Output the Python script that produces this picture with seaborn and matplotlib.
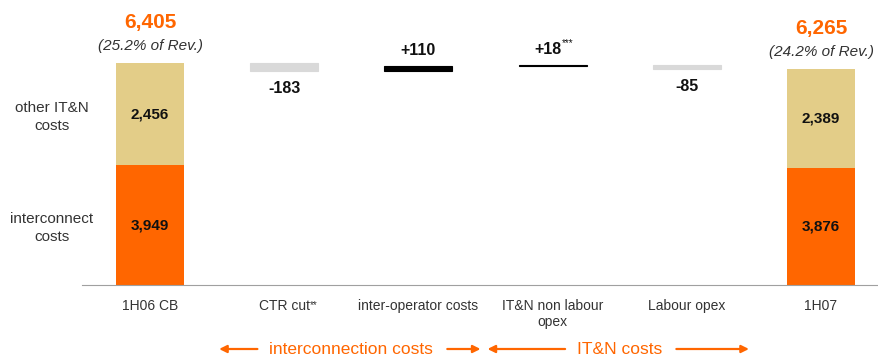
import numpy as np
import pandas as pd
import matplotlib
matplotlib.use("Agg")
import matplotlib.pyplot as plt
from matplotlib.transforms import blended_transform_factory
import seaborn as sns

# ---- data -------------------------------------------------------------
categories = ["1H06 CB", "CTR cut**", "inter-operator costs",
              "IT&N non labour\nopex", "Labour opex", "1H07"]
interconnect = [3949, 3876]          # 1H06 CB, 1H07
other_itn = [2456, 2389]             # 1H06 CB, 1H07
rev_share = ["25.2%", "24.2%"]
deltas = [-183, 110, 18, -85]        # CTR cut, inter-operator, IT&N non labour, Labour
delta_labels = ["-183", "+110", "+18***", "-85"]
segment_names = ["other IT&N\ncosts", "interconnect\ncosts"]
groups = [("interconnection costs", 1, 2), ("IT&N costs", 3, 4)]

ORANGE = "#FF6600"
TAN = "#E3CD88"
GREY = "#D9D9D9"
TEXT = "#333333"

sns.set_style("white")
plt.rcParams["font.family"] = ["Liberation Sans", "DejaVu Sans"]

W, H = 879, 356
fig = plt.figure(figsize=(W / 100, H / 100), dpi=100)
ax = fig.add_axes([82 / W, 71 / H, (W - 82) / W, 285 / H])

# value axis is cut: bars start above zero
Y_MIN, Y_MAX = 1066, 7920

totals = [a + b for a, b in zip(interconnect, other_itn)]
n = len(categories)
end_idx = [0, n - 1]
BAR_W = 0.507


def split_stars(s):
    core = s.rstrip("*")
    return core, s[len(core):]


# full-height total bars (tan), interconnect part overlaid in orange
tot_df = pd.DataFrame({"category": [categories[i] for i in end_idx],
                       "total": totals, "interconnect": interconnect})
sns.barplot(data=tot_df, x="category", y="total", order=categories,
            color=TAN, saturation=1, width=BAR_W, errorbar=None,
            linewidth=0, ax=ax)
sns.barplot(data=tot_df, x="category", y="interconnect", order=categories,
            color=ORANGE, saturation=1, width=BAR_W, errorbar=None,
            linewidth=0, ax=ax)

# floating step bars
level = totals[0]
lows, highs = [], []
for d in deltas:
    lows.append(min(level, level + d))
    highs.append(max(level, level + d))
    level += d
step_df = pd.DataFrame({"category": categories[1:n - 1],
                        "size": np.abs(deltas)})
sns.barplot(data=step_df, x="category", y="size", order=categories,
            color="black", saturation=1, width=BAR_W, errorbar=None,
            linewidth=0.8, ax=ax)
for patch in ax.containers[-1]:
    idx = int(round(patch.get_x() + patch.get_width() / 2)) - 1
    col = GREY if deltas[idx] < 0 else "black"
    patch.set_y(lows[idx])
    patch.set_facecolor(col)
    patch.set_edgecolor(col)

# axes styling
ax.set_xlim(-0.507, 5.432)
ax.set_ylim(Y_MIN, Y_MAX)
ax.set_xlabel("")
ax.set_ylabel("")
ax.set_yticks([])
for s in ["left", "top", "right"]:
    ax.spines[s].set_visible(False)
ax.spines["bottom"].set_color("#A0A0A0")
ax.spines["bottom"].set_linewidth(0.8)
ax.set_xticks(range(n))
tick_text = [split_stars(c)[0] for c in categories]
ax.set_xticklabels(tick_text, fontsize=10, color=TEXT)
ax.tick_params(axis="x", which="major", length=0, pad=10)
ax.set_xticks(np.arange(n) - 0.5, minor=True)
ax.tick_params(axis="x", which="minor", length=5, width=0.8,
               color="#A0A0A0", direction="out")

fig.canvas.draw()
renderer = fig.canvas.get_renderer()
inv_fig = fig.transFigure.inverted()

# footnote stars on tick labels
for lab, c in zip(ax.get_xticklabels(), categories):
    stars = split_stars(c)[1]
    if stars:
        bb = lab.get_window_extent(renderer)
        x_f, y_f = inv_fig.transform((bb.x1 + 0.5, bb.y1 - 1))
        fig.text(x_f, y_f, stars, fontsize=7, color=TEXT, ha="left",
                 va="top")

# total labels above end bars
for k, i in enumerate(end_idx):
    ax.annotate(f"{totals[k]:,}", xy=(i, totals[k]), xytext=(0, 40),
                textcoords="offset pixels", ha="center", va="center",
                fontsize=15, fontweight="bold", color=ORANGE)
    ax.annotate(f"({rev_share[k]} of Rev.)", xy=(i, totals[k]),
                xytext=(0, 17), textcoords="offset pixels", ha="center",
                va="center", fontsize=11, style="italic", color=TEXT)
    ax.text(i, (interconnect[k] + totals[k]) / 2, f"{other_itn[k]:,}",
            ha="center", va="center", fontsize=11, fontweight="bold",
            color="#111111")
    ax.text(i, (Y_MIN + interconnect[k]) / 2, f"{interconnect[k]:,}",
            ha="center", va="center", fontsize=11, fontweight="bold",
            color="#111111")

# segment names left of first bar
seg_y = [(interconnect[0] + totals[0]) / 2, (Y_MIN + interconnect[0]) / 2]
for name, y in zip(segment_names, seg_y):
    ax.annotate(name, xy=(-0.507, y), xytext=(-30, -3),
                textcoords="offset pixels", ha="center", va="center",
                fontsize=11, color=TEXT, annotation_clip=False,
                linespacing=1.35)

# step labels
for k, d in enumerate(deltas):
    if d < 0:
        xy, off = (k + 1, lows[k]), -18
    else:
        xy, off = (k + 1, highs[k]), 16
    core, stars = split_stars(delta_labels[k])
    shift = 9 if stars else 0
    ax.annotate(core, xy=xy, xytext=(shift, off),
                textcoords="offset pixels",
                ha="right" if stars else "center", va="center",
                fontsize=11.5, fontweight="bold", color="#111111")
    if stars:
        ax.annotate(stars, xy=xy, xytext=(shift, off + 1),
                    textcoords="offset pixels", ha="left", va="bottom",
                    fontsize=7, color="#111111")

# group brackets under the axis
trans = blended_transform_factory(ax.transData, fig.transFigure)
y_grp = 1 - 349 / H
inv = ax.transData.inverted()
px = 1 / 134.2
for label, first, last in groups:
    x0, x1 = first - 0.5, last + 0.5
    t = ax.text((x0 + x1) / 2, y_grp, label, transform=trans, ha="center",
                va="center", fontsize=12.5, color=ORANGE)
    bb = t.get_window_extent(renderer)
    left_in = inv.transform((bb.x0 - 12, 0))[0]
    right_in = inv.transform((bb.x1 + 14, 0))[0]
    for start, end in [(left_in, x0 + 2 * px), (right_in, x1 - 5 * px)]:
        ax.annotate("", xy=(end, y_grp), xytext=(start, y_grp),
                    xycoords=trans, textcoords=trans,
                    arrowprops=dict(arrowstyle="-|>", color=ORANGE, lw=1.6,
                                    mutation_scale=11, shrinkA=0, shrinkB=0),
                    annotation_clip=False)

fig.savefig("out.png", dpi=100)
